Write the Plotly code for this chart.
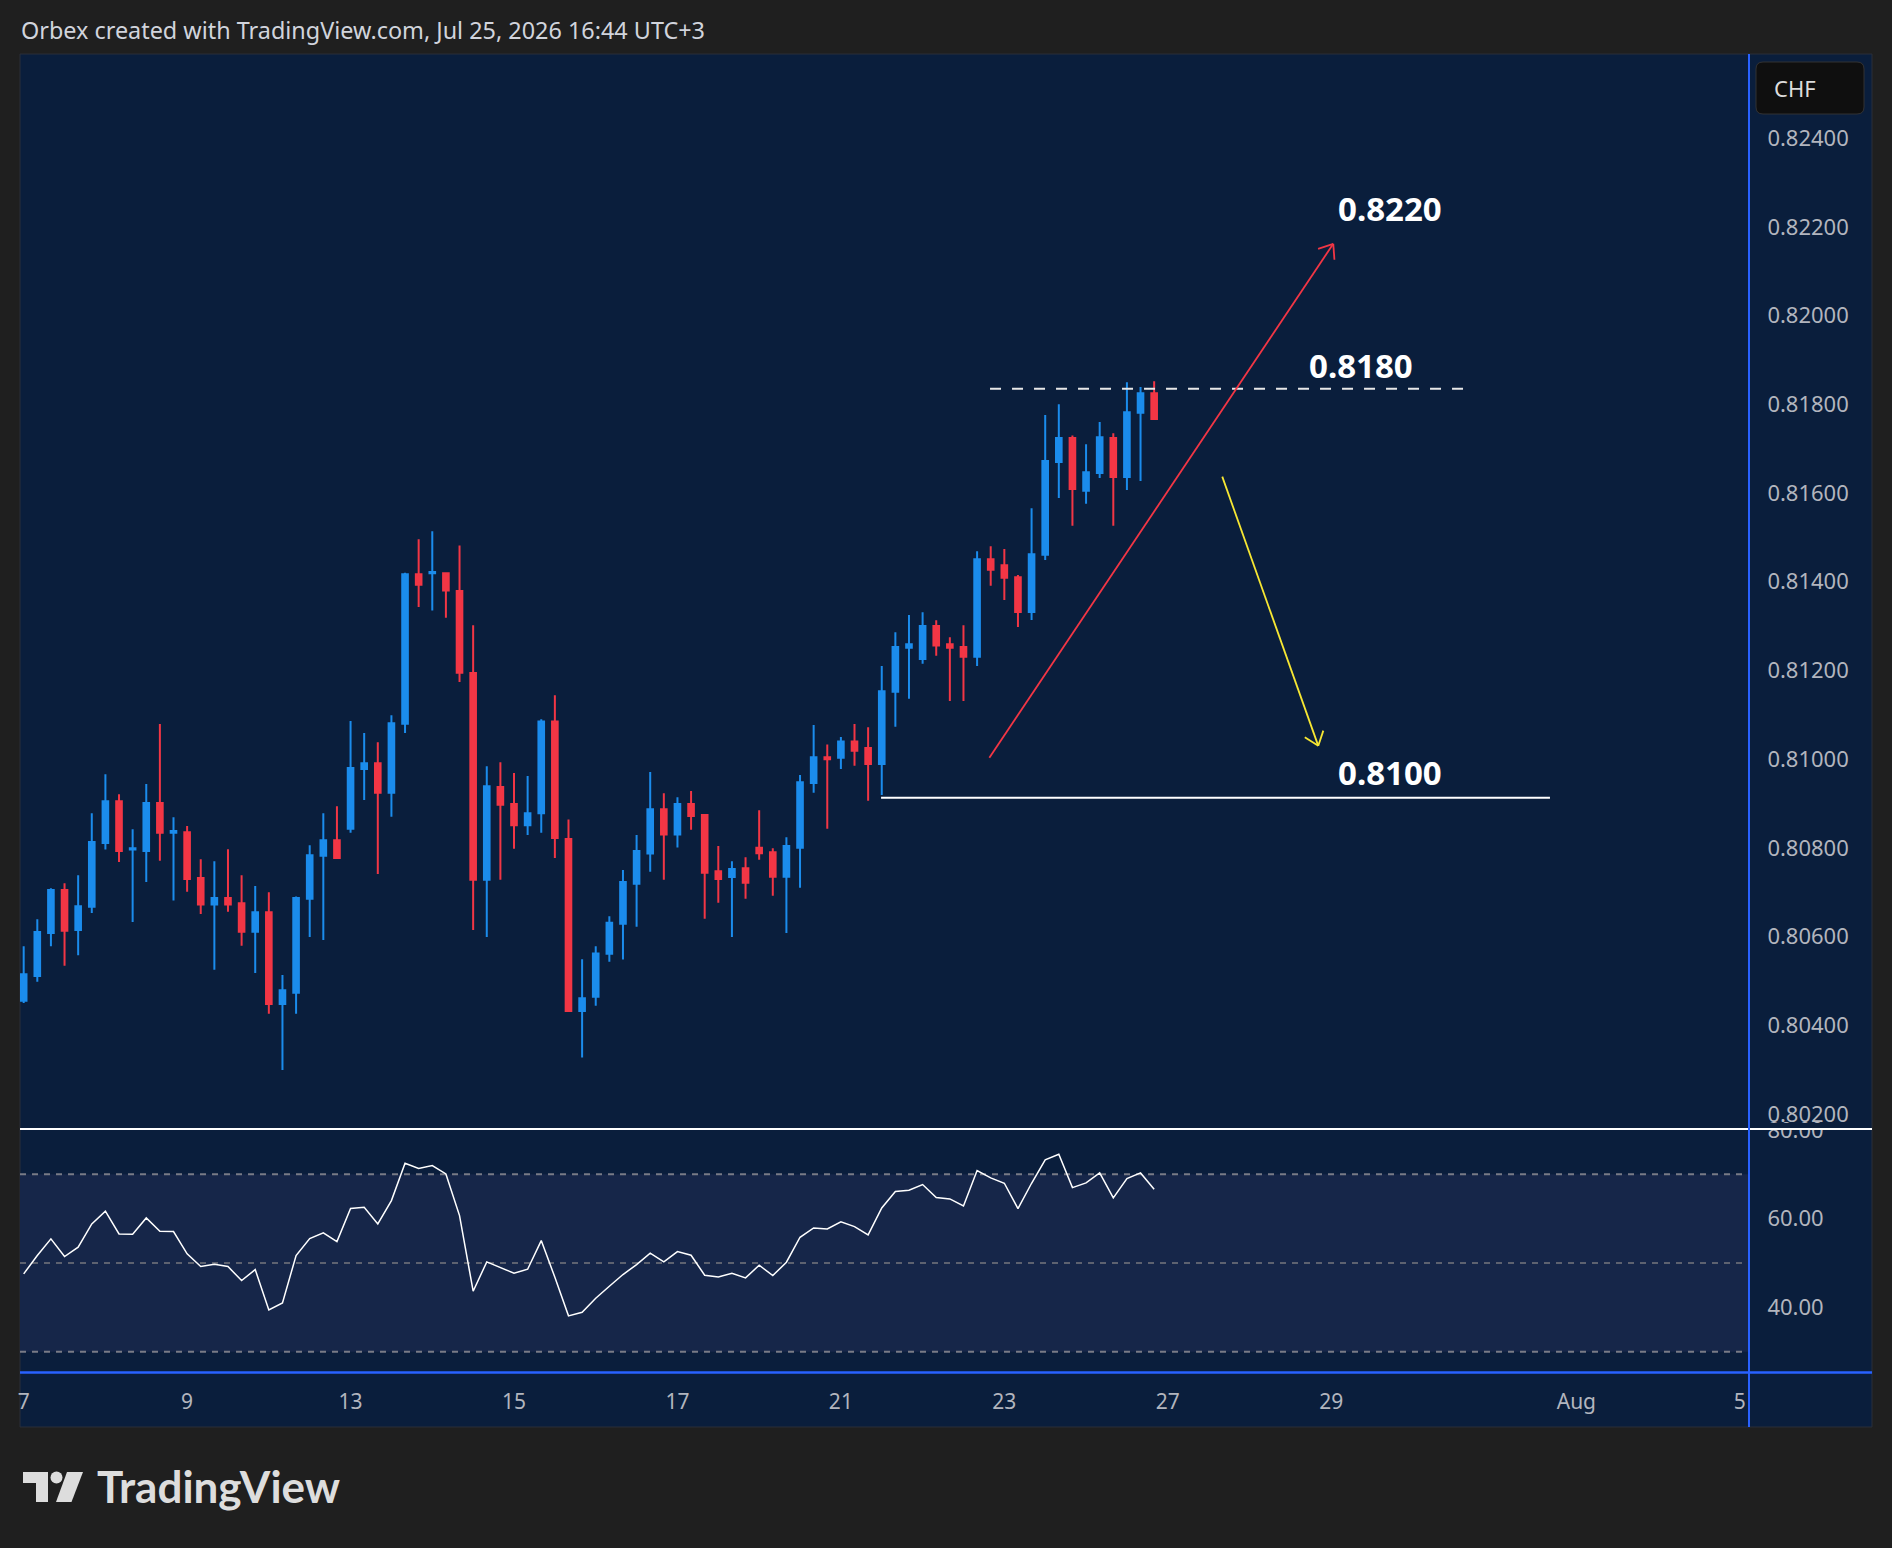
import math
import plotly.graph_objects as go

W, H = 1892, 1548

# ---------------- data (4H candles, USD/CHF) ----------------
opens = [0.80455, 0.80511, 0.80608, 0.80705, 0.80615, 0.80667, 0.80811, 0.80905, 0.80796, 0.80793,
         0.80901, 0.80834, 0.80835, 0.80732, 0.80672, 0.80687, 0.80675, 0.80611, 0.80655, 0.80448,
         0.80473, 0.80685, 0.80782, 0.80817, 0.80843, 0.80978, 0.80991, 0.80924, 0.81080, 0.81417,
         0.81419, 0.81419, 0.81379, 0.81194, 0.80728, 0.80937, 0.80899, 0.80851, 0.80878, 0.81085,
         0.80820, 0.80432, 0.80464, 0.80561, 0.80629, 0.80719, 0.80787, 0.80887, 0.80830, 0.80899,
         0.80874, 0.80747, 0.80734, 0.80754, 0.80800, 0.80790, 0.80735, 0.80800, 0.80946, 0.81004,
         0.81003, 0.81040, 0.81025, 0.80989, 0.81152, 0.81251, 0.81226, 0.81300, 0.81259, 0.81253,
         0.81231, 0.81451, 0.81437, 0.81410, 0.81332, 0.81461, 0.81670, 0.81724, 0.81605, 0.81645,
         0.81724, 0.81636, 0.81781, 0.81825]
highs = [0.80578, 0.80639, 0.80709, 0.80720, 0.80738, 0.80878, 0.80966, 0.80921, 0.80842, 0.80944,
         0.81079, 0.80869, 0.80849, 0.80774, 0.80770, 0.80797, 0.80738, 0.80714, 0.80700, 0.80513,
         0.80690, 0.80806, 0.80878, 0.80894, 0.81086, 0.81059, 0.81038, 0.81099, 0.81420, 0.81496,
         0.81514, 0.81421, 0.81482, 0.81302, 0.80984, 0.80993, 0.80969, 0.80962, 0.81090, 0.81144,
         0.80864, 0.80549, 0.80578, 0.80646, 0.80750, 0.80829, 0.80971, 0.80923, 0.80914, 0.80928,
         0.80875, 0.80804, 0.80770, 0.80779, 0.80885, 0.80799, 0.80824, 0.80964, 0.81077, 0.81033,
         0.81050, 0.81079, 0.81072, 0.81210, 0.81286, 0.81325, 0.81331, 0.81313, 0.81275, 0.81302,
         0.81469, 0.81480, 0.81474, 0.81415, 0.81566, 0.81776, 0.81800, 0.81730, 0.81710, 0.81760,
         0.81735, 0.81850, 0.81839, 0.81852]
lows = [0.80450, 0.80498, 0.80578, 0.80534, 0.80558, 0.80653, 0.80796, 0.80768, 0.80633, 0.80723,
        0.80771, 0.80681, 0.80701, 0.80651, 0.80525, 0.80656, 0.80579, 0.80518, 0.80426, 0.80299,
        0.80426, 0.80599, 0.80592, 0.80776, 0.80834, 0.80908, 0.80741, 0.80870, 0.81059, 0.81343,
        0.81335, 0.81319, 0.81174, 0.80615, 0.80599, 0.80728, 0.80798, 0.80829, 0.80834, 0.80777,
        0.80430, 0.80327, 0.80444, 0.80543, 0.80548, 0.80622, 0.80746, 0.80728, 0.80801, 0.80841,
        0.80640, 0.80676, 0.80599, 0.80685, 0.80773, 0.80692, 0.80608, 0.80710, 0.80924, 0.80843,
        0.80978, 0.80985, 0.80906, 0.80919, 0.81073, 0.81136, 0.81215, 0.81233, 0.81131, 0.81131,
        0.81210, 0.81391, 0.81359, 0.81298, 0.81314, 0.81449, 0.81589, 0.81526, 0.81576, 0.81634,
        0.81526, 0.81607, 0.81627, 0.81766]
closes = [0.80515, 0.80610, 0.80705, 0.80613, 0.80668, 0.80813, 0.80905, 0.80793, 0.80799, 0.80901,
          0.80834, 0.80838, 0.80730, 0.80672, 0.80687, 0.80672, 0.80611, 0.80655, 0.80448, 0.80479,
          0.80687, 0.80783, 0.80817, 0.80777, 0.80980, 0.80991, 0.80924, 0.81081, 0.81417, 0.81393,
          0.81422, 0.81380, 0.81195, 0.80728, 0.80939, 0.80897, 0.80851, 0.80878, 0.81085, 0.80822,
          0.80432, 0.80461, 0.80562, 0.80631, 0.80723, 0.80793, 0.80887, 0.80830, 0.80899, 0.80872,
          0.80744, 0.80730, 0.80752, 0.80721, 0.80788, 0.80735, 0.80804, 0.80948, 0.81004, 0.81000,
          0.81040, 0.81019, 0.80989, 0.81153, 0.81253, 0.81259, 0.81300, 0.81256, 0.81251, 0.81231,
          0.81451, 0.81427, 0.81409, 0.81332, 0.81462, 0.81672, 0.81724, 0.81609, 0.81647, 0.81726,
          0.81636, 0.81782, 0.81825, 0.81767]
rsi = [47.55, 51.68, 55.44, 51.46, 53.56, 58.82, 61.68, 56.57, 56.49, 60.17,
       57.17, 57.09, 52.06, 49.20, 49.73, 49.20, 46.04, 48.52, 39.43, 41.01,
       51.68, 55.51, 56.79, 54.84, 62.28, 62.58, 58.82, 64.08, 72.50, 71.30,
       71.97, 70.09, 60.70, 43.64, 50.25, 48.97, 47.70, 48.60, 55.06, 46.79,
       38.08, 38.90, 42.06, 44.77, 47.40, 49.65, 52.21, 50.25, 52.58, 51.76,
       47.25, 46.87, 47.70, 46.64, 49.50, 47.17, 50.18, 55.81, 57.92, 57.69,
       59.27, 58.22, 56.34, 62.43, 66.11, 66.41, 67.69, 64.76, 64.46, 62.88,
       70.85, 69.19, 67.99, 62.28, 67.99, 73.25, 74.53, 67.01, 68.07, 70.32,
       64.68, 69.04, 70.32, 66.64]
bar_index = list(range(len(opens)))

date_tick_pos = [0, 12, 24, 36, 48, 60, 72, 84, 96, 114, 126]
date_tick_text = ["7", "9", "13", "15", "17", "21", "23", "27", "29", "Aug", "5"]
price_ticks = [0.802, 0.804, 0.806, 0.808, 0.810, 0.812, 0.814, 0.816, 0.818, 0.820, 0.822, 0.824]
price_tick_text = ["0.80200", "0.80400", "0.80600", "0.80800", "0.81000", "0.81200",
                   "0.81400", "0.81600", "0.81800", "0.82000", "0.82200", "0.82400"]
rsi_ticks = [40, 60, 80]
rsi_tick_text = ["40.00", "60.00", "80.00"]
rsi_levels = [70, 50, 30]

# drawings (bar index, price)
resistance_level = 0.81835
resistance_span = (70.95, 105.7)
support_level = 0.80913
support_span = (62.95, 112.06)
up_arrow = (70.9, 0.81003, 96.15, 0.82162)
down_arrow = (88.0, 0.81637, 95.05, 0.81030)
labels = [("0.8220", 100.3, 0.82242), ("0.8180", 98.2, 0.81887), ("0.8100", 100.3, 0.80970)]

# ---------------- style ----------------
NAVY = "#0a1e3c"
BAND = "#162649"
OUTER = "#1f1f1f"
BLUE = "#1b8cec"
RED = "#f23645"
AXIS_TXT = "#b2b5be"
FONT = "Noto Sans"

PANE_L, PANE_R, FRAME_R = 20, 1748, 1872
MAIN_T, MAIN_B = 54, 1129
RSI_T, RSI_B = 1130, 1372
FRAME_T, FRAME_B = 54, 1427
X_MIN, X_MAX = -0.27, 126.6
P_MIN, P_MAX = 0.80166, 0.82590
R_MIN, R_MAX = 25.42, 80.0


def X(px):
    return px / W


def Y(py):
    return 1 - py / H


SX = (PANE_R - PANE_L) / (X_MAX - X_MIN)
SY = (MAIN_B - MAIN_T) / (P_MAX - P_MIN)

fig = go.Figure()
fig.add_trace(go.Candlestick(
    x=bar_index, open=opens, high=highs, low=lows, close=closes,
    xaxis="x", yaxis="y", whiskerwidth=0, showlegend=False,
    increasing=dict(line=dict(color=BLUE, width=2), fillcolor=BLUE),
    decreasing=dict(line=dict(color=RED, width=2), fillcolor=RED),
))
fig.add_trace(go.Scatter(
    x=bar_index, y=rsi, xaxis="x2", yaxis="y2", mode="lines",
    line=dict(color="#ffffff", width=1.5), showlegend=False, hoverinfo="skip",
))

shapes = []
# chart frame
shapes.append(dict(type="rect", xref="paper", yref="paper", x0=X(PANE_L), x1=X(FRAME_R),
                   y0=Y(FRAME_B), y1=Y(FRAME_T), fillcolor=NAVY,
                   line=dict(color="#2a2e39", width=1), layer="below"))
# RSI band + levels
shapes.append(dict(type="rect", xref="x2 domain", yref="y2", x0=0, x1=1, y0=30, y1=70,
                   fillcolor=BAND, line=dict(width=0), layer="below"))
for lv in rsi_levels:
    shapes.append(dict(type="line", xref="x2 domain", yref="y2", x0=0, x1=1, y0=lv, y1=lv,
                       line=dict(color="#787b86" if lv != 50 else "#5d6270", width=2, dash="6px,6px"),
                       layer="below"))
# horizontal levels
shapes.append(dict(type="line", xref="x", yref="y", x0=resistance_span[0], x1=resistance_span[1],
                   y0=resistance_level, y1=resistance_level,
                   line=dict(color="#e8e8e8", width=2, dash="11px,11px")))
shapes.append(dict(type="line", xref="x", yref="y", x0=support_span[0], x1=support_span[1],
                   y0=support_level, y1=support_level, line=dict(color="#ffffff", width=2)))


def arrow(x0, y0, x1, y1, color, width, wing=16, ang=38):
    out = [dict(type="line", xref="x", yref="y", x0=x0, y0=y0, x1=x1, y1=y1,
                line=dict(color=color, width=width))]
    dx = (x1 - x0) * SX
    dy = -(y1 - y0) * SY
    L = math.hypot(dx, dy)
    bx, by = -dx / L, -dy / L
    for s in (1, -1):
        a = math.radians(ang) * s
        wx = bx * math.cos(a) - by * math.sin(a)
        wy = bx * math.sin(a) + by * math.cos(a)
        out.append(dict(type="line", xref="x", yref="y", x0=x1, y0=y1,
                        x1=x1 + wx * wing / SX, y1=y1 - wy * wing / SY,
                        line=dict(color=color, width=width)))
    return out


shapes += arrow(*up_arrow, RED, 1.8)
shapes += arrow(*down_arrow, "#f7e733", 1.8)

# mask top of the clipped "80.00" label
shapes.append(dict(type="rect", xref="paper", yref="paper", x0=X(PANE_R + 2), x1=X(FRAME_R - 1),
                   y0=Y(MAIN_B), y1=Y(MAIN_B - 6), fillcolor=NAVY, line=dict(width=0), layer="above"))
# pane separator, scale borders
shapes.append(dict(type="line", xref="paper", yref="paper", x0=X(PANE_L), x1=X(FRAME_R),
                   y0=Y(MAIN_B), y1=Y(MAIN_B), line=dict(color="#ffffff", width=2), layer="above"))
shapes.append(dict(type="line", xref="paper", yref="paper", x0=X(PANE_L), x1=X(FRAME_R),
                   y0=Y(RSI_B + 0.5), y1=Y(RSI_B + 0.5), line=dict(color="#2962ff", width=2.5), layer="above"))
shapes.append(dict(type="line", xref="paper", yref="paper", x0=X(PANE_R + 1), x1=X(PANE_R + 1),
                   y0=Y(FRAME_B), y1=Y(FRAME_T), line=dict(color="#2962ff", width=2), layer="above"))


def rrect(x0, y0, x1, y1, r):
    p = [f"M{X(x0 + r)},{Y(y0)}", f"L{X(x1 - r)},{Y(y0)}", f"Q{X(x1)},{Y(y0)} {X(x1)},{Y(y0 + r)}",
         f"L{X(x1)},{Y(y1 - r)}", f"Q{X(x1)},{Y(y1)} {X(x1 - r)},{Y(y1)}",
         f"L{X(x0 + r)},{Y(y1)}", f"Q{X(x0)},{Y(y1)} {X(x0)},{Y(y1 - r)}",
         f"L{X(x0)},{Y(y0 + r)}", f"Q{X(x0)},{Y(y0)} {X(x0 + r)},{Y(y0)}", "Z"]
    return " ".join(p)


def poly(pts):
    return "M" + " L".join(f"{X(a)},{Y(b)}" for a, b in pts) + " Z"


# currency box
shapes.append(dict(type="path", xref="paper", yref="paper", path=rrect(1756, 62, 1864, 114, 7),
                   fillcolor="#0f0f0f", line=dict(color="#333333", width=1), layer="above"))
# TradingView logo mark
LOGO = "#dddddd"
shapes.append(dict(type="path", xref="paper", yref="paper",
                   path=poly([(23, 1472), (48, 1472), (48, 1502), (36, 1502), (36, 1483), (23, 1483)]),
                   fillcolor=LOGO, line=dict(width=0)))
shapes.append(dict(type="circle", xref="paper", yref="paper", x0=X(50.5), x1=X(62.5),
                   y0=Y(1483.5), y1=Y(1471.5), fillcolor=LOGO, line=dict(width=0)))
shapes.append(dict(type="path", xref="paper", yref="paper",
                   path=poly([(67, 1472), (83, 1472), (71.5, 1502), (56, 1502)]),
                   fillcolor=LOGO, line=dict(width=0)))

annotations = []
annotations.append(dict(xref="paper", yref="paper", x=X(19), y=Y(30), xanchor="left", yanchor="middle",
                        text="Orbex created with TradingView.com, Jul 25, 2026 16:44 UTC+3", showarrow=False,
                        font=dict(family=FONT, size=23.4, color="#d1d4dc")))
annotations.append(dict(xref="paper", yref="paper", x=X(1772), y=Y(88), xanchor="left", yanchor="middle",
                        text="CHF", showarrow=False, font=dict(family=FONT, size=22, color="#dcdcdc")))
annotations.append(dict(xref="paper", yref="paper", x=X(95), y=Y(1486), xanchor="left", yanchor="middle",
                        text="TradingView", showarrow=False,
                        font=dict(family="Lato", size=44, color=LOGO, weight=700)))
for txt, bx, pr in labels:
    annotations.append(dict(xref="x", yref="y", x=bx, y=pr, xanchor="center", yanchor="middle",
                            text=txt, showarrow=False,
                            font=dict(family=FONT, size=33, color="#ffffff", weight=700)))

hidden = "rgba(0,0,0,0)"
fig.update_layout(
    width=W, height=H, margin=dict(l=0, r=0, t=0, b=0, pad=0, autoexpand=False),
    paper_bgcolor=OUTER, plot_bgcolor=hidden, showlegend=False,
    xaxis=dict(domain=[X(PANE_L), X(PANE_R)], range=[X_MIN, X_MAX], anchor="y", matches="x2",
               showticklabels=False, showgrid=False, zeroline=False, showline=False,
               rangeslider=dict(visible=False), ticks="", automargin=False),
    yaxis=dict(domain=[Y(MAIN_B), Y(MAIN_T)], range=[P_MIN, P_MAX], anchor="x", side="right",
               tickvals=price_ticks, ticktext=price_tick_text, showgrid=False, zeroline=False,
               showline=False, ticks="outside", ticklen=14, tickcolor=hidden, automargin=False,
               tickfont=dict(family=FONT, size=22, color=AXIS_TXT)),
    xaxis2=dict(domain=[X(PANE_L), X(PANE_R)], range=[X_MIN, X_MAX], anchor="y2",
                tickvals=date_tick_pos, ticktext=date_tick_text, showgrid=False, zeroline=False,
                showline=False, ticks="outside", ticklen=11, tickcolor=hidden, automargin=False,
                tickfont=dict(family=FONT, size=21, color=AXIS_TXT)),
    yaxis2=dict(domain=[Y(RSI_B), Y(RSI_T)], range=[R_MIN, R_MAX], anchor="x2", side="right",
                tickvals=rsi_ticks, ticktext=rsi_tick_text, showgrid=False, zeroline=False,
                showline=False, ticks="outside", ticklen=14, tickcolor=hidden, automargin=False,
                tickfont=dict(family=FONT, size=22, color=AXIS_TXT)),
    boxgap=0.41,
    shapes=shapes, annotations=annotations,
)

fig.write_html("out.html")
